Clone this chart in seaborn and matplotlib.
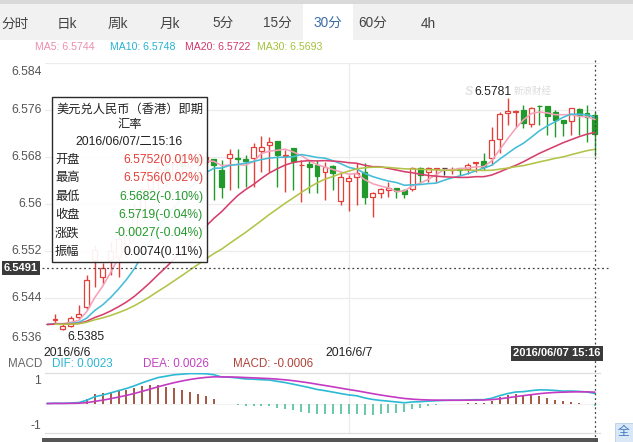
import numpy as np
import pandas as pd
import matplotlib
matplotlib.use("Agg")
import matplotlib.pyplot as plt
import matplotlib.transforms as mtransforms
from matplotlib.patches import Rectangle
from matplotlib.lines import Line2D
import seaborn as sns

# ---------------- data ----------------
tabs = ["分时", "日k", "周k", "月k", "5分", "15分", "30分", "60分", "4h"]
selected_tab = "30分"

# closes before the visible window (flat line at left edge)
prior_closes = [6.5395, 6.5396, 6.5394, 6.5395, 6.5395, 6.5396, 6.5394, 6.5395, 6.5395,
                6.5395, 6.5396, 6.5394, 6.5395, 6.5395, 6.5396, 6.5394, 6.5395, 6.5395,
                6.5395, 6.5396, 6.5394, 6.5395, 6.5395, 6.5396, 6.5394, 6.5395, 6.5395,
                6.5395, 6.5395]

open_ = [6.5403, 6.5388, 6.5392, 6.5408, 6.5424, 6.5505, 6.5476, 6.5505, 6.5510, 6.5520,
         6.5555, 6.5590, 6.5625, 6.5640, 6.5660, 6.5650, 6.5670, 6.5665, 6.5680, 6.5672,
         6.5677, 6.5658, 6.5678, 6.5678, 6.5677, 6.5678, 6.5690, 6.5700, 6.5707, 6.5682,
         6.5695, 6.5666, 6.5668, 6.5666, 6.5654, 6.5665, 6.5605, 6.5639, 6.5646, 6.5654,
         6.5612, 6.5619, 6.5623, 6.5627, 6.5624, 6.5626, 6.5661, 6.5655, 6.5660, 6.5661,
         6.5658, 6.5661, 6.5660, 6.5670, 6.5673, 6.5678, 6.5711, 6.5755, 6.5757, 6.5760,
         6.5736, 6.5767, 6.5767, 6.5757, 6.5743, 6.5741, 6.5762, 6.5755, 6.5752]
high = [6.5412, 6.5396, 6.5410, 6.5428, 6.5480, 6.5530, 6.5499, 6.5535, 6.5548, 6.5560,
        6.5600, 6.5630, 6.5650, 6.5668, 6.5670, 6.5680, 6.5685, 6.5690, 6.5688, 6.5690,
        6.5677, 6.5675, 6.5694, 6.5694, 6.5683, 6.5704, 6.5716, 6.5714, 6.5707, 6.5692,
        6.5695, 6.5675, 6.5675, 6.5675, 6.5672, 6.5666, 6.5653, 6.5649, 6.5670, 6.5670,
        6.5620, 6.5627, 6.5637, 6.5628, 6.5626, 6.5663, 6.5663, 6.5663, 6.5661, 6.5661,
        6.5663, 6.5661, 6.5670, 6.5671, 6.5687, 6.5731, 6.5757, 6.5781, 6.5760, 6.5768,
        6.5765, 6.5768, 6.5767, 6.5760, 6.5743, 6.5763, 6.5763, 6.5768, 6.5756]
low = [6.5398, 6.5385, 6.5390, 6.5404, 6.5420, 6.5459, 6.5463, 6.5479, 6.5476, 6.5510,
       6.5545, 6.5580, 6.5610, 6.5625, 6.5630, 6.5640, 6.5640, 6.5650, 6.5640, 6.5620,
       6.5607, 6.5610, 6.5624, 6.5627, 6.5629, 6.5629, 6.5655, 6.5655, 6.5629, 6.5620,
       6.5624, 6.5603, 6.5619, 6.5619, 6.5607, 6.5624, 6.5598, 6.5588, 6.5598, 6.5600,
       6.5578, 6.5610, 6.5612, 6.5610, 6.5610, 6.5622, 6.5636, 6.5637, 6.5637, 6.5650,
       6.5651, 6.5650, 6.5651, 6.5654, 6.5658, 6.5666, 6.5687, 6.5734, 6.5731, 6.5729,
       6.5731, 6.5734, 6.5717, 6.5714, 6.5716, 6.5717, 6.5717, 6.5706, 6.5682]
close = [6.5404, 6.5393, 6.5406, 6.5412, 6.5470, 6.5522, 6.5491, 6.5520, 6.5540, 6.5555,
         6.5590, 6.5625, 6.5640, 6.5660, 6.5650, 6.5670, 6.5665, 6.5680, 6.5672, 6.5680,
         6.5666, 6.5629, 6.5685, 6.5676, 6.5674, 6.5697, 6.5697, 6.5706, 6.5683, 6.5684,
         6.5673, 6.5667, 6.5663, 6.5648, 6.5663, 6.5653, 6.5646, 6.5644, 6.5653, 6.5612,
         6.5618, 6.5626, 6.5628, 6.5622, 6.5617, 6.5661, 6.5649, 6.5661, 6.5661, 6.5661,
         6.5660, 6.5658, 6.5666, 6.5671, 6.5663, 6.5709, 6.5753, 6.5758, 6.5758, 6.5738,
         6.5763, 6.5766, 6.5750, 6.5743, 6.5738, 6.5763, 6.5751, 6.5748, 6.5719]

ma_periods = [5, 10, 20, 30]
ma_labels = ["MA5: 6.5744", "MA10: 6.5748", "MA20: 6.5722", "MA30: 6.5693"]
price_ticks = [6.536, 6.544, 6.552, 6.56, 6.568, 6.576, 6.584]
price_tick_labels = ["6.536", "6.544", "6.552", "6.56", "6.568", "6.576", "6.584"]
day_labels = ["2016/6/6", "2016/6/7"]
day_start_index = [0, 37]
crosshair_price = 6.5491
crosshair_label = "6.5491"
crosshair_time = "2016/06/07 15:16"
max_label = "6.5781"
min_label = "6.5385"
macd_ticks = [1, -1]
macd_unit = 0.0053
macd_legend = ["DIF: 0.0023", "DEA: 0.0026", "MACD: -0.0006"]

tip_title = ["美元兑人民币（香港）即期", "汇率", "2016/06/07/二15:16"]
tip_rows = ["开盘", "最高", "最低", "收盘", "涨跌", "振幅"]
tip_vals = ["6.5752(0.01%)", "6.5756(0.02%)", "6.5682(-0.10%)",
            "6.5719(-0.04%)", "-0.0027(-0.04%)", "0.0074(0.11%)"]
tip_sign = [1, 1, -1, -1, -1, 0]

# ---------------- style ----------------
sns.set_theme(style="white")
plt.rcParams["font.family"] = ["Liberation Sans", "Noto Sans CJK SC", "DejaVu Sans"]

W, H = 633, 442
fig = plt.figure(figsize=(W / 100, H / 100), dpi=100)
fig.patch.set_facecolor("white")


def fx(x):
    return x / W


def fy(y):
    return 1 - y / H


RED = "#e3403a"
GREEN = "#22992b"
MA_COLORS = ["#f4a1b9", "#45bdd6", "#d63f6c", "#b3c347"]
MA_TEXT = ["#ee8fb0", "#27b3d2", "#d2366a", "#a3c23a"]
GRID = "#ececec"

# ---------------- tab bar ----------------
fig.add_artist(Rectangle((0, fy(40)), 1, fy(4) - fy(40), transform=fig.transFigure,
                         facecolor="#f1f1f1", edgecolor="none"))
fig.add_artist(Rectangle((0, fy(4)), 1, fy(0) - fy(4), transform=fig.transFigure,
                         facecolor="#d9d9d9", edgecolor="none"))
tab_px = [15, 67, 118, 170, 223, 277, 328, 373, 428]
for t, xp in zip(tabs, tab_px):
    if t == selected_tab:
        fig.add_artist(Rectangle((fx(303), fy(40)), fx(50), fy(4) - fy(40),
                                 transform=fig.transFigure, facecolor="white",
                                 edgecolor="none"))
    fig.text(fx(xp), fy(24), t, ha="center", va="center", fontsize=9.8,
             color="#3c6ea6" if t == selected_tab else "#444444")

# MA legend
for lab, col, xp in zip(ma_labels, MA_TEXT, [35, 110, 185, 257]):
    fig.text(fx(xp), fy(46.5), lab, ha="left", va="center", fontsize=7.6, color=col)

# ---------------- main axes ----------------
ax = fig.add_axes([fx(45), fy(345), fx(600) - fx(45), fy(63) - fy(345)])
n = len(close)
idx = np.arange(n)
o = np.array(open_)
c = np.array(close)
h = np.array(high)
l = np.array(low)

ax.set_xlim(-1.26, 68.64)
ax.set_ylim(price_ticks[0], price_ticks[-1])
for s in ax.spines.values():
    s.set_visible(False)
ax.set_xticks([])
ax.set_yticks([])
for p in price_ticks:
    ax.axhline(p, color=GRID, lw=0.9, zorder=0)
ax.axvline(day_start_index[1], color=GRID, lw=0.9, zorder=0)

cols = np.where(c > o, RED, np.where(c < o, GREEN, "#333333"))
faces = np.where(c > o, "white", np.where(c < o, GREEN, "#333333"))
ax.vlines(idx, l, h, colors=cols, lw=1.0, zorder=2)
body_bot = np.minimum(o, c)
body_h = np.maximum(np.abs(c - o), 0.00011)
ax.bar(idx, body_h, bottom=body_bot, width=0.62, color=faces, edgecolor=cols,
       linewidth=0.9, zorder=3)

# moving averages
all_close = pd.Series(prior_closes + close)
npri = len(prior_closes)
x_ma = np.arange(-1, n)
for per, col in zip(ma_periods, MA_COLORS):
    ma = all_close.rolling(per).mean().to_numpy()[npri - 1:]
    sns.lineplot(x=x_ma, y=ma, ax=ax, color=col, lw=1.15, zorder=4, legend=False)
ax.set_xlabel("")
ax.set_ylabel("")

# y tick labels (drawn as text)
ytrans = mtransforms.blended_transform_factory(ax.transAxes, ax.transData)
for k, (p, lab) in enumerate(zip(price_ticks, price_tick_labels)):
    if k == 0:
        tr = mtransforms.offset_copy(ytrans, fig=fig, x=-3, y=1, units="dots")
        va = "bottom"
    elif k == len(price_ticks) - 1:
        tr = mtransforms.offset_copy(ytrans, fig=fig, x=-3, y=-3, units="dots")
        va = "top"
    else:
        tr = mtransforms.offset_copy(ytrans, fig=fig, x=-3, y=0, units="dots")
        va = "center"
    ax.text(0, p, lab, transform=tr, ha="right", va=va, fontsize=8.7,
            color="#555555", clip_on=False)

# max / min annotations (with faint watermark)
imax = int(np.argmax(h))
imin = int(np.argmin(l))
ax.annotate("S", (imax, h[imax]), xytext=(-39, 6), textcoords="offset pixels",
            ha="center", va="center", fontsize=9, color="#e2e2e2", fontweight="bold",
            style="italic", zorder=1)
ax.annotate("新浪财经", (imax, h[imax]), xytext=(6, 6), textcoords="offset pixels",
            ha="left", va="center", fontsize=6.8, color="#dcdcdc", style="italic", zorder=1)
ax.annotate(max_label, (imax, h[imax]), xytext=(4, 6), textcoords="offset pixels",
            ha="right", va="center", fontsize=8.7, color="#222222", zorder=6)
ax.annotate(min_label, (imin, l[imin]), xytext=(4, -7), textcoords="offset pixels",
            ha="left", va="center", fontsize=8.7, color="#222222",
            annotation_clip=False, zorder=6)

# ---------------- MACD axes ----------------
axm = fig.add_axes([fx(45), fy(433), fx(600) - fx(45), fy(373) - fy(433)])
ema12 = all_close.ewm(span=12, adjust=False).mean()
ema26 = all_close.ewm(span=26, adjust=False).mean()
dif = ema12 - ema26
dea = dif.ewm(span=9, adjust=False).mean()
hist = 2 * (dif - dea)
dif_v = dif.to_numpy()[npri - 1:] / macd_unit
dea_v = dea.to_numpy()[npri - 1:] / macd_unit
hist_v = hist.to_numpy()[npri:] / macd_unit

axm.set_xlim(-1.26, 68.64)
axm.set_ylim(-1.311, 1.356)
for side, s in axm.spines.items():
    if side in ("top", "bottom"):
        s.set_visible(True)
        s.set_color("#dedede")
        s.set_linewidth(0.9)
    else:
        s.set_visible(False)
axm.set_xticks([])
axm.set_yticks([])
axm.axvline(day_start_index[1], color=GRID, lw=0.9, zorder=0)
axm.axhline(0, color="#f3f3f3", lw=0.8, zorder=0)
hcols = np.where(hist_v >= 0, "#9b4a35", "#5cc59f")
axm.vlines(idx, 0, hist_v, colors=hcols, lw=1.3, zorder=2)
sns.lineplot(x=x_ma, y=dif_v, ax=axm, color="#2bb9d4", lw=1.2, zorder=3, legend=False)
sns.lineplot(x=x_ma, y=dea_v, ax=axm, color="#c53ac2", lw=1.2, zorder=3, legend=False)
axm.set_xlabel("")
axm.set_ylabel("")
mtr = mtransforms.offset_copy(mtransforms.blended_transform_factory(axm.transAxes, axm.transData),
                              fig=fig, x=-4, y=0, units="dots")
for t in macd_ticks:
    axm.text(0, t, str(t), transform=mtr, ha="right", va="center", fontsize=8.7,
             color="#555555", clip_on=False)

fig.text(fx(8), fy(364), "MACD", ha="left", va="center", fontsize=8.4, color="#666666")
for lab, col, xp in zip(macd_legend, ["#2bb5d2", "#c341c0", "#b0443a"], [52, 143, 233]):
    fig.text(fx(xp), fy(364), lab, ha="left", va="center", fontsize=8.4, color=col)

# day labels
fig.text(fx(43), fy(352.5), day_labels[0], ha="left", va="center", fontsize=8.7, color="#222222")
xd = ax.transData.transform((day_start_index[1], 0))[0] / fig.dpi / fig.get_figwidth()
fig.text(xd, fy(352.5), day_labels[1], ha="center", va="center", fontsize=8.7, color="#222222")

# ---------------- crosshair ----------------
x_last = ax.transData.transform((n - 1, 0))[0] / (fig.get_figwidth() * fig.dpi)
y_cross = ax.transData.transform((0, crosshair_price))[1] / (fig.get_figheight() * fig.dpi)
fig.add_artist(Line2D([x_last, x_last], [fy(60), fy(441)], transform=fig.transFigure,
                      color="#444444", lw=0.9, ls=(0, (1.5, 2.2)), zorder=7))
fig.add_artist(Line2D([fx(42), fx(608)], [y_cross, y_cross], transform=fig.transFigure,
                      color="#444444", lw=0.9, ls=(0, (1.5, 2.2)), zorder=7))
fig.text(fx(21), y_cross, crosshair_label, ha="center", va="center", fontsize=8,
         color="white", fontweight="bold", zorder=9,
         bbox=dict(boxstyle="square,pad=0.18", facecolor="#3a3a3a", edgecolor="none"))
fig.text(fx(557), fy(353.5), crosshair_time, ha="center", va="center", fontsize=8,
         color="white", fontweight="bold", zorder=9,
         bbox=dict(boxstyle="square,pad=0.2", facecolor="#3a3a3a", edgecolor="none"))

# ---------------- tooltip ----------------
fig.add_artist(Rectangle((fx(52), fy(262)), fx(155), fy(97) - fy(262),
                         transform=fig.transFigure, facecolor="white", alpha=0.93,
                         edgecolor="#1a1a1a", lw=1.0, zorder=8))
for txt, yp in zip(tip_title, [110, 125, 142]):
    fig.text(fx(129.5), fy(yp), txt, ha="center", va="center", fontsize=8.8,
             color="#222222", zorder=9)
for k, (lab, val, sg) in enumerate(zip(tip_rows, tip_vals, tip_sign)):
    yp = 160 + k * 18.3
    fig.text(fx(55), fy(yp), lab, ha="left", va="center", fontsize=8.8,
             color="#222222", zorder=9)
    colr = RED if sg > 0 else (GREEN if sg < 0 else "#222222")
    fig.text(fx(203), fy(yp), val, ha="right", va="center", fontsize=8.8,
             color=colr, zorder=9)

# ---------------- bottom bar / button ----------------
fig.add_artist(Rectangle((fx(42), fy(442)), fx(556), fy(438) - fy(442),
                         transform=fig.transFigure, facecolor="#555555", edgecolor="none"))
fig.add_artist(Rectangle((fx(615), fy(442)), fx(18), fy(423) - fy(442),
                         transform=fig.transFigure, facecolor="#d9e7f7", edgecolor="#b8cfe8",
                         lw=0.6))
fig.text(fx(624), fy(432), "全", ha="center", va="center", fontsize=8.5, color="#3a78c8")

fig.savefig("out.png", dpi=100)
